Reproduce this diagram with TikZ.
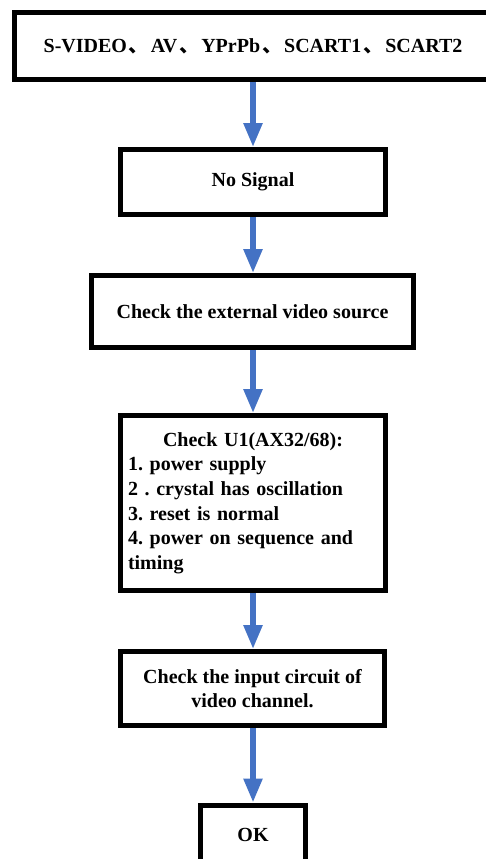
\documentclass[tikz,border=0pt]{standalone}
\usepackage{fontspec}
\setmainfont{Liberation Serif}
\newfontfamily\cjk{Noto Sans CJK SC}
\usetikzlibrary{arrows.meta,backgrounds}
\definecolor{arrowblue}{RGB}{68,114,196}
\newcommand{\dunhao}{\kern2pt{\cjk 、}\kern2pt}
\begin{document}
\frenchspacing
\begin{tikzpicture}[x=1pt,y=-1pt,
  box/.style={draw=black, line width=5pt, fill=white, inner sep=0pt, align=center,
    font=\fontsize{20}{24.6}\selectfont\bfseries},
  flow/.style={draw=arrowblue, line width=5.5pt, -{Triangle[width=18pt,length=24pt]}, fill=arrowblue}]
\useasboundingbox (0,0) rectangle (486,859);
\clip (0,0) rectangle (486,859);
\node[box, minimum width=477pt, minimum height=67pt] (src) at (253,46)
  {S-VIDEO\dunhao AV\dunhao YPrPb\dunhao SCART1\dunhao SCART2};
\node[box, minimum width=265pt, minimum height=65pt] (nosig) at (253,182) {No Signal};
\node[box, minimum width=322pt, minimum height=72pt] (ext) at (252.5,311.5) {Check the external video source};
\node[box, minimum width=265pt, minimum height=175pt, text width=250pt, align=left] (u1) at (253,503)
  {\makebox[\linewidth][c]{Check U1(AX32/68):}\\
   1. power supply\\
   2 . crystal has oscillation\\
   3. reset is normal\\
   4. power on sequence and\\
   timing};
\node[box, minimum width=264pt, minimum height=74pt] (inp) at (252.5,688.5) {Check the input circuit of\\video channel.};
\node[box, minimum width=105pt, minimum height=60pt] (ok) at (253,835) {OK};
\begin{scope}[on background layer]
  \fill[white] (0,0) rectangle (486,859);
  \draw[flow] (src.south -| nosig.north) -- (nosig.north);
  \draw[flow] (nosig.south) -- (nosig.south |- ext.north);
  \draw[flow] (ext.south -| u1.north) -- (u1.north);
  \draw[flow] (u1.south) -- (u1.south |- inp.north);
  \draw[flow] (inp.south -| ok.north) -- (ok.north);
\end{scope}
\end{tikzpicture}
\end{document}
